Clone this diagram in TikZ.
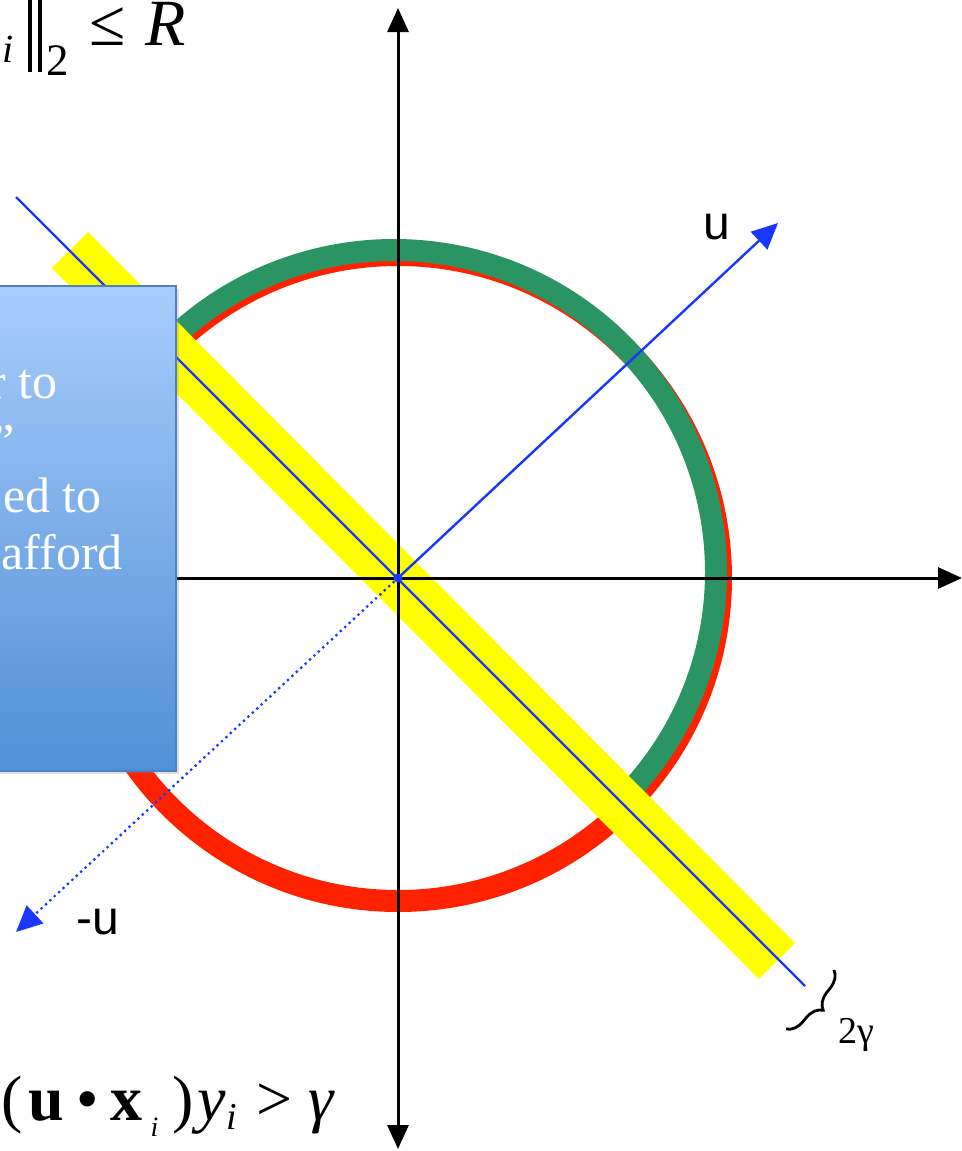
\documentclass[tikz,border=0pt]{standalone}
\usepackage{fontspec}
\setmainfont{Liberation Serif}
\newfontfamily\lsans{Liberation Sans}
\usetikzlibrary{arrows.meta,decorations.pathreplacing,shadows}
\definecolor{ringgreen}{RGB}{42,148,98}
\definecolor{ringred}{RGB}{255,34,0}
\definecolor{bandyellow}{RGB}{255,255,0}
\definecolor{lineblue}{RGB}{25,55,255}
\definecolor{boxtop}{RGB}{168,204,252}
\definecolor{boxbot}{RGB}{80,144,214}
\definecolor{boxedge}{RGB}{80,130,195}
\tikzset{
  axisline/.style={black, line width=3pt},
  axtip/.style={-{Triangle[length=24pt,width=21pt]}},
  bluevec/.style={lineblue, line width=2.4pt},
  bluetip/.style={-{Triangle[length=26pt,width=24pt]}},
  ulabel/.style={inner sep=0pt, font=\lsans\fontsize{48}{48}\selectfont},
  boxtxt/.style={inner sep=0pt, text=white, font=\fontsize{50}{50}\selectfont, anchor=base east},
  mtxt/.style={inner sep=0pt, anchor=base west},
  panel/.style={draw=boxedge, line width=1.5pt, top color=boxtop, bottom color=boxbot,
    drop shadow={shadow xshift=3pt, shadow yshift=-3pt, opacity=.25}}
}
\begin{document}
\begin{tikzpicture}[x=1pt,y=-1pt]
\useasboundingbox (0,0) rectangle (961,1151);
\clip (0,0) rectangle (961,1151);
\fill[white] (0,0) rectangle (961,1151);
% coordinates
\coordinate (O) at (398,578);
\coordinate (Gc) at (394,572);
\coordinate (Y1) at (70,250);
\coordinate (Y2) at (777,961);
\coordinate (B1) at (16,197);
\coordinate (B2) at (805,986);
\coordinate (Utip) at (778,223);
\coordinate (Mtip) at (16,932);
\coordinate (Vtop) at (398,8);
\coordinate (Vbot) at (398,1149);
\coordinate (Hleft) at (170,578);
\coordinate (Hright) at (962,578);
\coordinate (Br1) at (834,970);
\coordinate (Br2) at (786,1029);
% circle
\draw[ringred, line width=22pt] (O) circle[radius=323];
\draw[ringgreen, line width=22pt] (Gc) ++(-135:322) arc[start angle=-135, end angle=45, radius=322];
% yellow band
\draw[bandyellow, line width=51pt] (Y1) -- (Y2);
% axes
\draw[axisline, {Triangle[length=24pt,width=21pt]}-{Triangle[length=24pt,width=21pt]}] (Vbot) -- (Vtop);
\draw[axisline, axtip] (Hleft) -- (Hright);
% blue lines
\draw[bluevec] (B1) -- (B2);
\draw[bluevec, bluetip] (O) -- (Utip);
\draw[lineblue, line width=3.2pt, line cap=round, dash pattern=on 0pt off 6pt, bluetip] (O) -- (Mtip);
\fill[lineblue] (O) circle[radius=4.5];
% labels
\node[ulabel] (ul) at (717,227) {u};
\node[ulabel] (mul) at (98,922) {-u};
% brace
\draw[decorate, decoration={brace, amplitude=17pt}, line width=2.8pt] (Br1) -- (Br2);
\node[mtxt, font=\fontsize{38}{38}\selectfont] (gam) at (838,1043) {2γ};
% top formula (clipped)
\node[mtxt, font=\itshape\fontsize{40}{40}\selectfont] (ti) at (2,62) {i};
\draw[line width=4pt] (29.5,-2) -- (29.5,72);
\draw[line width=4pt] (39.5,-2) -- (39.5,72);
\node[mtxt, font=\fontsize{45}{45}\selectfont] (t2) at (46,75) {2};
\node[mtxt, font=\fontsize{66}{66}\selectfont] (tle) at (89,45) {≤};
\node[mtxt, font=\itshape\fontsize{66}{66}\selectfont] (tR) at (145,45) {R};
% bottom formula
\node[mtxt, font=\fontsize{64}{64}\selectfont] (bf) at (1,1120)
 {(\hspace{6pt}\textbf{u}\hspace{12pt}•\hspace{12pt}\textbf{x}\hspace{8pt}\raisebox{-16pt}{\fontsize{28}{28}\selectfont\itshape i}\hspace{14pt})\hspace{4pt}\textit{y}\raisebox{-9pt}{\fontsize{38}{38}\selectfont\itshape i}\hspace{20pt}>\hspace{16pt}\textit{γ}};
% blue panel
\node[panel, minimum width=190pt, minimum height=485pt, anchor=north west, inner sep=0pt] (box) at (-15,285) {};
\node[boxtxt] (l1) at (58,398) {r to};
\node[boxtxt] (l2) at (15,458) {”};
\node[boxtxt] (l3) at (102,512) {ed to};
\node[boxtxt] (l4) at (123,569) {afford};
\end{tikzpicture}
\end{document}
